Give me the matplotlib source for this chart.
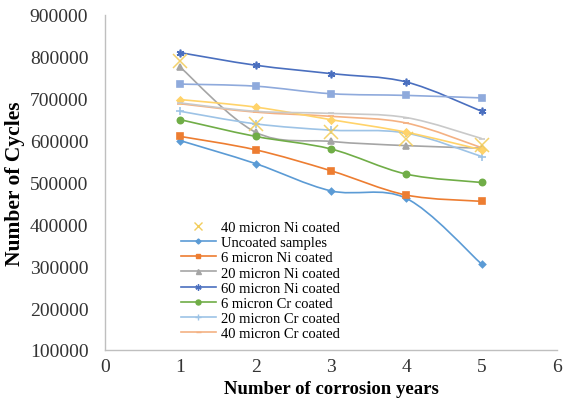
import numpy as np
import matplotlib
matplotlib.use("Agg")
import matplotlib.pyplot as plt
from matplotlib.path import Path
from matplotlib.patches import PathPatch
from matplotlib.lines import Line2D

years = [1, 2, 3, 4, 5]

uncoated = [600000, 545000, 480000, 462000, 305000]
ni_6 = [610000, 578000, 528000, 470000, 455000]
ni_20 = [775000, 620000, 598000, 588000, 582000]
ni_40 = [790000, 640000, 620000, 605000, 590000]
ni_60 = [810000, 780000, 760000, 740000, 670000]
cr_6 = [650000, 610000, 580000, 520000, 500000]
cr_20 = [670000, 640000, 625000, 618000, 562000]
cr_40 = [688000, 668000, 658000, 642000, 583000]
# three more series drawn on the chart but left out of the key
sq_blue = [735000, 730000, 712000, 708000, 702000]
dia_gold = [698000, 680000, 650000, 620000, 578000]
dash_grey = [690000, 670000, 665000, 655000, 605000]

yticks = [100000, 200000, 300000, 400000, 500000, 600000, 700000, 800000, 900000]
xticks = [0, 1, 2, 3, 4, 5, 6]

plt.rcParams["font.family"] = ["Liberation Serif", "DejaVu Serif"]


def smooth_path(xs, ys):
    """Catmull-Rom curve through the points, as cubic Bezier segments."""
    pts = np.column_stack([xs, ys]).astype(float)
    verts = [pts[0]]
    codes = [Path.MOVETO]
    n = len(pts)
    for i in range(n - 1):
        p0 = pts[max(i - 1, 0)]
        p1 = pts[i]
        p2 = pts[i + 1]
        p3 = pts[min(i + 2, n - 1)]
        c1 = p1 + (p2 - p0) / 6.0
        c2 = p2 - (p3 - p1) / 6.0
        verts += [c1, c2, p2]
        codes += [Path.CURVE4] * 3
    return Path(verts, codes)


fig = plt.figure(figsize=(5.64, 4.06), dpi=100)
ax = fig.add_axes([0.1862, 0.1355, 0.8014, 0.8251])

# (values, colour, marker, marker size, label)
series = [
    (uncoated, "#5B9BD5", "D", 3.2, "Uncoated samples"),
    (ni_6, "#ED7D31", "s", 4.2, "6 micron Ni coated"),
    (ni_20, "#A5A5A5", "^", 4.5, "20 micron Ni coated"),
    (ni_60, "#4A6FBF", (6, 2, 0), 5.5, "60 micron Ni coated"),
    (cr_6, "#70AD47", "o", 4.5, "6 micron Cr coated"),
    (cr_20, "#9DC3E6", "+", 5.5, "20 micron Cr coated"),
    (cr_40, "#F4B183", "_", 4.5, "40 micron Cr coated"),
    (sq_blue, "#8FAADC", "s", 4.8, None),
    (dia_gold, "#FFD36A", "D", 3.5, None),
    (dash_grey, "#C9C9C9", "_", 5.0, None),
]

handles = [Line2D([], [], linestyle="none", marker="x", markersize=6,
                  color="#F2CD5C", markeredgewidth=1.0,
                  label="40 micron Ni coated")]

for vals, col, mk, ms, lab in series:
    patch = PathPatch(smooth_path(years, vals), facecolor="none",
                      edgecolor=col, linewidth=1.2, transform=ax.transData)
    ax.add_patch(patch)
    ax.plot(years, vals, linestyle="none", marker=mk, markersize=ms,
            color=col, markeredgewidth=1.2)
    if lab:
        handles.append(Line2D([], [], color=col, linewidth=1.2, marker=mk,
                              markersize=ms * 0.8, markeredgewidth=1.0,
                              label=lab))

# 40 micron Ni: markers only
ax.plot(years, ni_40, linestyle="none", marker="x", markersize=10,
        color="#F2CD5C", markeredgewidth=1.1, alpha=0.9)

ax.set_xlim(0, 6)
ax.set_ylim(100000, 900000)
ax.set_xticks(xticks)
ax.set_yticks(yticks)
ax.tick_params(length=0, labelsize=14, colors="#333333")
ax.tick_params(axis="x", pad=6)
ax.tick_params(axis="y", pad=12)

for side in ["top", "right"]:
    ax.spines[side].set_visible(False)
for side in ["left", "bottom"]:
    ax.spines[side].set_color("#BFBFBF")
    ax.spines[side].set_linewidth(1.0)

ax.set_xlabel("Number of corrosion years", fontsize=13.5, fontweight="bold")
ax.set_ylabel("Number of Cycles", fontsize=15.5, fontweight="bold")
ax.xaxis.set_label_coords(0.5, -0.09)
ax.yaxis.set_label_coords(-0.178, 0.5)

ax.legend(handles=handles, loc="lower left", bbox_to_anchor=(0.168, 0.03),
          frameon=False, fontsize=10.5, labelspacing=0.13, handlelength=2.4,
          handletextpad=0.35, borderpad=0, borderaxespad=0)

fig.savefig("out.png", dpi=100)
